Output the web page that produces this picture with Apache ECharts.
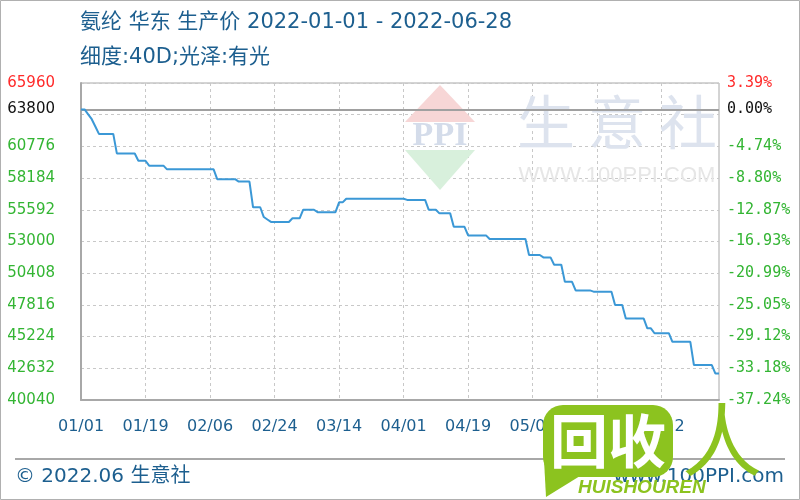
<!DOCTYPE html>
<html><head><meta charset="utf-8">
<script src="https://cdn.jsdelivr.net/npm/echarts@6/dist/echarts.min.js"></script>
<style>html,body{margin:0;padding:0;background:#fff}#c{width:800px;height:500px}</style>
</head><body><div id="c"></div>
<script>
// ---- data ----
const startDate = '2022-01-01';
const dayCount = 179; // 2022-01-01 .. 2022-06-28
const prices = [
  63800, 63800, 63400, 63000, 62400, 61800, 61800, 61800, 61800, 61800,
  60200, 60200, 60200, 60200, 60200, 60200, 59600, 59600, 59600, 59200,
  59200, 59200, 59200, 59200, 58900, 58900, 58900, 58900, 58900, 58900,
  58900, 58900, 58900, 58900, 58900, 58900, 58900, 58900, 58100, 58100,
  58100, 58100, 58100, 58100, 57900, 57900, 57900, 57900, 55800, 55800,
  55800, 55000, 54800, 54600, 54600, 54600, 54600, 54600, 54600, 54900,
  54900, 54900, 55600, 55600, 55600, 55600, 55400, 55400, 55400, 55400,
  55400, 55400, 56200, 56200, 56500, 56500, 56500, 56500, 56500, 56500,
  56500, 56500, 56500, 56500, 56500, 56500, 56500, 56500, 56500, 56500,
  56500, 56400, 56400, 56400, 56400, 56400, 56400, 55600, 55600, 55600,
  55300, 55300, 55300, 55300, 54200, 54200, 54200, 54200, 53500, 53500,
  53500, 53500, 53500, 53500, 53200, 53200, 53200, 53200, 53200, 53200,
  53200, 53200, 53200, 53200, 53200, 51900, 51900, 51900, 51900, 51700,
  51700, 51700, 51100, 51100, 51100, 49700, 49700, 49700, 49000, 49000,
  49000, 49000, 49000, 48900, 48900, 48900, 48900, 48900, 48900, 47800,
  47800, 47800, 46700, 46700, 46700, 46700, 46700, 46700, 45900, 45900,
  45500, 45500, 45500, 45500, 45500, 44800, 44800, 44800, 44800, 44800,
  44800, 42900, 42900, 42900, 42900, 42900, 42900, 42200, 42200
];
const basePrice = 63800;
const yMin = 40040, yMax = 65960, yStep = 2592;
const leftTickLabels  = ['40040','42632','45224','47816','50408','53000','55592','58184','60776','','65960'];
const rightTickLabels = ['-37.24%','-33.18%','-29.12%','-25.05%','-20.99%','-16.93%','-12.87%','-8.80%','-4.74%','','3.39%'];
const baseLeftLabel = '63800', baseRightLabel = '0.00%';
const titleLine1 = '氨纶 华东 生产价 2022-01-01 - 2022-06-28';
const titleLine2 = '细度:40D;光泽:有光';
const footerLeft = '© 2022.06 生意社';
const footerRight = 'www.100PPI.com';

// categories (calendar days)
const dates = [];
{
  const d0 = new Date(startDate + 'T00:00:00Z');
  for (let i = 0; i < dayCount; i++) {
    const d = new Date(d0.getTime() + i * 86400000);
    const mm = String(d.getUTCMonth() + 1).padStart(2, '0');
    const dd = String(d.getUTCDate()).padStart(2, '0');
    dates.push(mm + '/' + dd);
  }
}

const GREEN = '#33b533', RED = '#ff2a2a', BLUE = '#1d5f8f', LOGO = '#8cc31f';
const FONT = 'DejaVu Sans, Noto Sans CJK SC';
const tickIdx = v => Math.round((v - yMin) / yStep);

const chart = echarts.init(document.getElementById('c'));
chart.setOption({
  animation: false,
  backgroundColor: '#fff',
  grid: { left: 81, right: 81, top: 83, bottom: 100, show: true, borderColor: '#a8a8a8', borderWidth: 1 },
  xAxis: {
    type: 'category', data: dates, boundaryGap: false,
    axisLine: { lineStyle: { color: '#a8a8a8', width: 2 } },
    axisTick: { show: false },
    axisLabel: { interval: 17, margin: 19, color: BLUE, fontSize: 16, fontFamily: 'DejaVu Sans' },
    splitLine: { show: true, interval: 17, lineStyle: { color: '#c8c8c8', type: [3, 3], width: 1 } }
  },
  yAxis: [{
    type: 'value', min: yMin, max: yMax, interval: yStep,
    axisLine: { show: true, lineStyle: { color: '#a8a8a8', width: 2 } },
    axisTick: { show: false },
    splitLine: { lineStyle: { color: '#c8c8c8', type: [3, 3], width: 1 } },
    axisLabel: {
      margin: 26, fontSize: 15, fontFamily: 'DejaVu Sans',
      formatter: v => { const i = tickIdx(v); const t = leftTickLabels[i]; if (!t) return ''; return (i === leftTickLabels.length - 1 ? '{r|' : '{g|') + t + '}'; },
      rich: { r: { color: RED, fontSize: 15, fontFamily: 'DejaVu Sans' }, g: { color: GREEN, fontSize: 15, fontFamily: 'DejaVu Sans' } }
    }
  }, {
    type: 'value', min: yMin, max: yMax, interval: yStep, position: 'right',
    axisLine: { show: false }, axisTick: { show: false }, splitLine: { show: false },
    axisLabel: {
      margin: 8, fontSize: 15, fontFamily: 'DejaVu Sans Mono',
      formatter: v => { const i = tickIdx(v); const t = rightTickLabels[i]; if (!t) return ''; return (i === rightTickLabels.length - 1 ? '{r|' : '{g|') + t + '}'; },
      rich: { r: { color: RED, fontSize: 15, fontFamily: 'DejaVu Sans Mono' }, g: { color: GREEN, fontSize: 15, fontFamily: 'DejaVu Sans Mono' } }
    }
  }],
  series: [{
    type: 'line', data: prices, yAxisIndex: 0, showSymbol: false, symbol: 'none',
    lineStyle: { color: '#3b98d6', width: 2 }, z: 5,
    markLine: {
      silent: true, symbol: 'none', animation: false,
      lineStyle: { color: '#a0a0a0', type: 'solid', width: 2 },
      data: [
        { yAxis: basePrice, label: { position: 'start', distance: 26, formatter: baseLeftLabel, color: '#111', fontSize: 15, fontFamily: 'DejaVu Sans' } },
        { yAxis: basePrice, label: { position: 'end', distance: 8, formatter: baseRightLabel, color: '#111', fontSize: 15, fontFamily: 'DejaVu Sans Mono' } }
      ]
    }
  }],
  graphic: [
    { type: 'rect', shape: { x: 0.5, y: 0.5, width: 799, height: 499 }, style: { fill: 'none', stroke: '#b0b0b0', lineWidth: 1 }, z: 100 },
    { type: 'text', x: 80, y: 23, style: { text: titleLine1, fill: BLUE, fontSize: 21, fontFamily: FONT, verticalAlign: 'middle' } },
    { type: 'text', x: 80, y: 58, style: { text: titleLine2, fill: BLUE, fontSize: 21, fontFamily: FONT, verticalAlign: 'middle' } },
    // watermark 生意社 PPI
    { type: 'polygon', shape: { points: [[440, 85], [405, 122], [475, 122]] }, style: { fill: '#f7d6d6' }, z: 1 },
    { type: 'polygon', shape: { points: [[405, 150], [475, 150], [440, 190]] }, style: { fill: '#d8f0dc' }, z: 1 },
    { type: 'text', x: 440, y: 136, style: { text: 'PPI', fill: '#d4dcea', fontSize: 34, fontWeight: 'bold', fontFamily: 'Liberation Serif', align: 'center', verticalAlign: 'middle' }, z: 1 },
    { type: 'text', x: 617, y: 122, style: { text: '生 意 社', fill: '#dde3ee', fontSize: 58, fontFamily: 'Noto Sans CJK SC', align: 'center', verticalAlign: 'middle' }, z: 1 },
    { type: 'text', x: 617, y: 176, style: { text: 'WWW.100PPI.COM', fill: '#e6e6e6', fontSize: 22, fontFamily: 'Liberation Sans', align: 'center', verticalAlign: 'middle' }, z: 1 },
    // footer
    { type: 'line', shape: { x1: 15, y1: 459, x2: 785, y2: 459 }, style: { stroke: '#a8a8a8', lineWidth: 2 } },
    { type: 'text', x: 15, y: 477, style: { text: footerLeft, fill: BLUE, fontSize: 20, fontFamily: FONT, verticalAlign: 'middle' } },
    { type: 'text', x: 784, y: 477, style: { text: footerRight, fill: BLUE, fontSize: 20, fontFamily: 'DejaVu Sans', align: 'right', verticalAlign: 'middle' } },
    // overlay logo
    { type: 'rect', shape: { x: 543, y: 405, width: 130, height: 72, r: 20 }, style: { fill: LOGO }, z: 50 },
    { type: 'polygon', shape: { points: [[544, 460], [580, 476], [546, 497]] }, style: { fill: LOGO }, z: 50 },
    { type: 'text', x: 608, y: 441, style: { text: '回收', fill: '#fff', fontSize: 58, fontWeight: 'bold', fontFamily: 'Noto Sans CJK SC', align: 'center', verticalAlign: 'middle' }, z: 51 },
    { type: 'text', x: 722, y: 440, style: { text: '人', fill: LOGO, fontSize: 80, fontFamily: 'Noto Sans CJK SC', align: 'center', verticalAlign: 'middle' }, z: 51 },
    { type: 'text', x: 578, y: 488, style: { text: 'HUISHOUREN', fill: LOGO, fontSize: 19, fontWeight: 'bold', fontStyle: 'italic', fontFamily: 'Liberation Sans', verticalAlign: 'middle' }, z: 51 }
  ]
});
</script></body></html>
